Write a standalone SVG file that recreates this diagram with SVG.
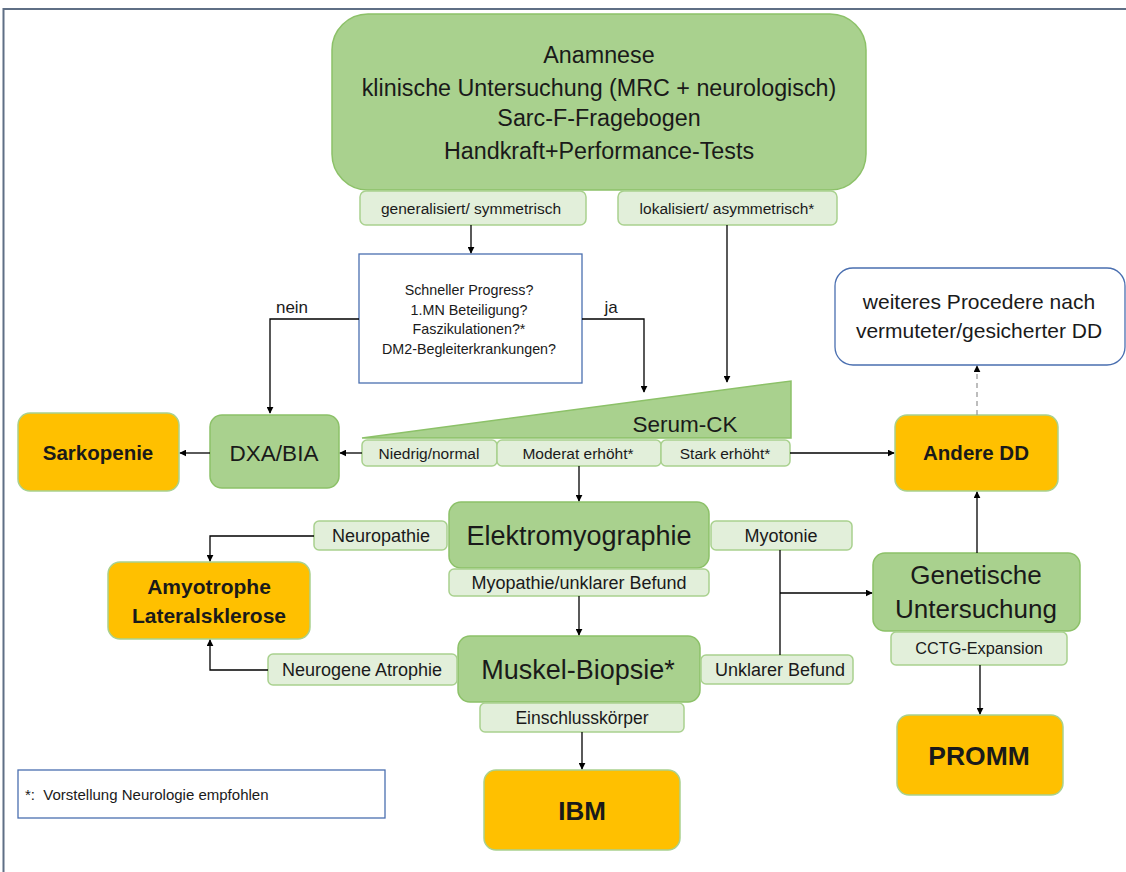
<svg xmlns="http://www.w3.org/2000/svg" width="1126" height="872" viewBox="0 0 1126 872">
<defs>
<marker id="ah" viewBox="0 0 10 10" refX="9" refY="5" markerWidth="7" markerHeight="7" orient="auto" markerUnits="userSpaceOnUse">
<path d="M0,0 L10,5 L0,10 z" fill="#000"/>
</marker>
<style>
text{font-family:"Liberation Sans",Arial,sans-serif;fill:#1a1a1a;text-anchor:middle}
.main{fill:#a9d18e;stroke:#8cc168;stroke-width:1.5}
.lab{fill:#e2efda;stroke:#a9d18e;stroke-width:1.5}
.res{fill:#ffc000;stroke:#a9d18e;stroke-width:1.5}
.blue{fill:#fff;stroke:#4a6fb0;stroke-width:1.3}
.conn path{fill:none;stroke:#000;stroke-width:1.3}
.t14{font-size:14.3px}
.t15{font-size:15.5px}
.t18{font-size:18px}
.t23{font-size:23.3px}
.b{font-weight:bold}
</style>
</defs>
<rect width="1126" height="872" fill="#fff"/>
<path d="M3.5,872 V9 H1126" fill="none" stroke="#5f6f85" stroke-width="2"/>

<g id="anamnese">
<rect class="main" x="332" y="14" width="534" height="176" rx="36"/>
<text class="t23" x="599" y="63">Anamnese</text>
<text class="t23" x="599" y="96">klinische Untersuchung (MRC + neurologisch)</text>
<text class="t23" x="599" y="126">Sarc-F-Fragebogen</text>
<text class="t23" x="599" y="159">Handkraft+Performance-Tests</text>
</g>
<g id="lab-gen">
<rect class="lab" x="360" y="191" width="226" height="34" rx="6"/>
<text class="t15" x="471" y="214">generalisiert/ symmetrisch</text>
</g>
<g id="lab-lok">
<rect class="lab" x="618" y="191" width="219" height="34" rx="6"/>
<text class="t15" x="727" y="214">lokalisiert/ asymmetrisch*</text>
</g>
<g id="fragen">
<rect class="blue" x="359" y="254" width="223" height="129"/>
<text class="t14" x="469" y="295">Schneller Progress?</text>
<text class="t14" x="469" y="315">1.MN Beteiligung?</text>
<text class="t14" x="469" y="334">Faszikulationen?*</text>
<text class="t14" x="469" y="354">DM2-Begleiterkrankungen?</text>
</g>
<g id="serum-ck">
<path d="M362,438 L791,381 L791,438 Z" fill="#a9d18e" stroke="#8cc168" stroke-width="1.5"/>
<text x="685" y="432" style="font-size:22.5px">Serum-CK</text>
</g>
<g id="lab-niedrig">
<rect class="lab" x="362" y="440" width="135" height="26" rx="5"/>
<text class="t15" x="429" y="459">Niedrig/normal</text>
</g>
<g id="lab-moderat">
<rect class="lab" x="497" y="440" width="164" height="26" rx="5"/>
<text class="t15" x="578" y="459">Moderat erhöht*</text>
</g>
<g id="lab-stark">
<rect class="lab" x="661" y="440" width="129" height="26" rx="5"/>
<text class="t15" x="725" y="459">Stark erhöht*</text>
</g>
<g id="dxa">
<rect class="main" x="210" y="415" width="129" height="73" rx="12"/>
<text x="274" y="461" style="font-size:22.5px">DXA/BIA</text>
</g>
<g id="sarkopenie">
<rect class="res" x="18" y="413" width="161" height="78" rx="12"/>
<text class="b" x="98" y="460" style="font-size:20.5px">Sarkopenie</text>
</g>
<g id="andere-dd">
<rect class="res" x="895" y="415" width="163" height="76" rx="12"/>
<text class="b" x="976" y="460" style="font-size:20.5px">Andere DD</text>
</g>
<g id="weiteres">
<rect class="blue" x="835" y="268" width="290" height="97" rx="18"/>
<text x="979" y="309" style="font-size:21px">weiteres Procedere nach</text>
<text x="979" y="338" style="font-size:21px">vermuteter/gesicherter DD</text>
</g>
<g id="emg">
<rect class="main" x="449" y="502" width="260" height="66" rx="12"/>
<text x="579" y="545" style="font-size:27px">Elektromyographie</text>
</g>
<g id="lab-myopathie">
<rect class="lab" x="449" y="569" width="260" height="27" rx="5"/>
<text class="t18" x="579" y="589">Myopathie/unklarer Befund</text>
</g>
<g id="lab-neuropathie">
<rect class="lab" x="314" y="521" width="133" height="29" rx="5"/>
<text class="t18" x="381" y="542">Neuropathie</text>
</g>
<g id="lab-myotonie">
<rect class="lab" x="711" y="521" width="141" height="29" rx="5"/>
<text class="t18" x="781" y="542">Myotonie</text>
</g>
<g id="als">
<rect class="res" x="108" y="562" width="202" height="77" rx="12"/>
<text class="b" x="209" y="594" style="font-size:21px">Amyotrophe</text>
<text class="b" x="209" y="623" style="font-size:21px">Lateralsklerose</text>
</g>
<g id="biopsie">
<rect class="main" x="458" y="636" width="242" height="66" rx="12"/>
<text x="578" y="679" style="font-size:27px">Muskel-Biopsie*</text>
</g>
<g id="lab-neurogen">
<rect class="lab" x="268" y="654" width="189" height="31" rx="5"/>
<text class="t18" x="362" y="676">Neurogene Atrophie</text>
</g>
<g id="lab-unklar">
<rect class="lab" x="701" y="655" width="152" height="29" rx="5"/>
<text class="t18" x="780" y="676">Unklarer Befund</text>
</g>
<g id="lab-einschluss">
<rect class="lab" x="480" y="703" width="204" height="29" rx="5"/>
<text x="582" y="724" style="font-size:17.5px">Einschlusskörper</text>
</g>
<g id="ibm">
<rect class="res" x="484" y="770" width="196" height="80" rx="12"/>
<text class="b" x="582" y="820" style="font-size:26px">IBM</text>
</g>
<g id="genetik">
<rect class="main" x="873" y="553" width="207" height="78" rx="12"/>
<text x="976" y="584" style="font-size:26px">Genetische</text>
<text x="976" y="618" style="font-size:26px">Untersuchung</text>
</g>
<g id="lab-cctg">
<rect class="lab" x="891" y="632" width="176" height="33" rx="5"/>
<text x="979" y="654" style="font-size:16.3px">CCTG-Expansion</text>
</g>
<g id="promm">
<rect class="res" x="897" y="715" width="166" height="80" rx="12"/>
<text class="b" x="979" y="765" style="font-size:26.5px">PROMM</text>
</g>
<g id="legende">
<rect class="blue" x="18" y="770" width="367" height="48"/>
<text x="25" y="800" style="font-size:15px;text-anchor:start">*:&#160; Vorstellung Neurologie empfohlen</text>
</g>

<g id="connectors" class="conn">
<path d="M471,225 V253" marker-end="url(#ah)"/>
<path d="M359,319 H270 V413" marker-end="url(#ah)"/>
<path d="M582,319 H644 V392" marker-end="url(#ah)"/>
<path d="M727,225 V382" marker-end="url(#ah)"/>
<path d="M362,453 H340" marker-end="url(#ah)"/>
<path d="M210,453 H180" marker-end="url(#ah)"/>
<path d="M790,453 H894" marker-end="url(#ah)"/>
<path d="M977,415 V366" marker-end="url(#ah)" style="stroke:#9a9a9a;stroke-dasharray:5,4"/>
<path d="M579,466 V501" marker-end="url(#ah)"/>
<path d="M314,536 H210 V561" marker-end="url(#ah)"/>
<path d="M579,596 V635" marker-end="url(#ah)"/>
<path d="M268,670 H210 V640" marker-end="url(#ah)"/>
<path d="M582,732 V769" marker-end="url(#ah)"/>
<path d="M780,550 V655"/>
<path d="M780,593 H872" marker-end="url(#ah)"/>
<path d="M977,553 V492" marker-end="url(#ah)"/>
<path d="M980,665 V714" marker-end="url(#ah)"/>
</g>
<text x="292" y="313" style="font-size:17px">nein</text>
<text x="611" y="313" style="font-size:17px">ja</text>
</svg>
